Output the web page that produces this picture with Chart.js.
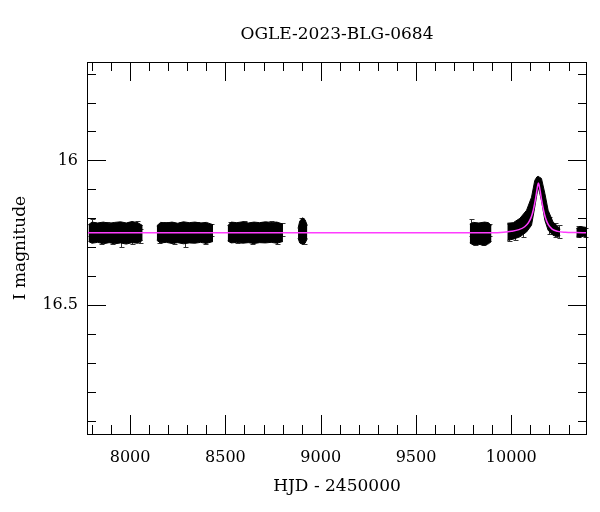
<!DOCTYPE html>
<html lang="en">
<head>
<meta charset="UTF-8">
<title>OGLE-2023-BLG-0684</title>
<style>
  body { margin: 0; background: #fff; }
</style>
</head>
<body>
<canvas id="lightCurve" width="600" height="512"></canvas>
<script src="https://cdn.jsdelivr.net/npm/chart.js"></script>
<script>
const titleText = 'OGLE-2023-BLG-0684';

// observing seasons: the points are so dense they merge, so each season is
// kept as its upper / lower edge (I mag)
const s1X  = [7782, 7800, 7830, 7860, 7890, 7920, 7950, 7980, 8010, 8040, 8066];
const s1Hi = [16.222, 16.213, 16.216, 16.213, 16.217, 16.214, 16.212, 16.216, 16.211, 16.215, 16.225];
const s1Lo = [16.280, 16.286, 16.283, 16.288, 16.284, 16.288, 16.285, 16.289, 16.284, 16.286, 16.276];

const s2X  = [8140, 8160, 8190, 8220, 8250, 8280, 8310, 8340, 8370, 8400, 8435];
const s2Hi = [16.226, 16.214, 16.216, 16.213, 16.217, 16.212, 16.215, 16.213, 16.216, 16.214, 16.222];
const s2Lo = [16.276, 16.285, 16.283, 16.287, 16.284, 16.288, 16.285, 16.286, 16.283, 16.287, 16.280];

const s3X  = [8512, 8530, 8560, 8590, 8620, 8650, 8680, 8710, 8740, 8770, 8802];
const s3Hi = [16.226, 16.213, 16.215, 16.212, 16.216, 16.213, 16.215, 16.212, 16.214, 16.213, 16.220];
const s3Lo = [16.278, 16.285, 16.283, 16.286, 16.284, 16.287, 16.284, 16.285, 16.283, 16.286, 16.280];

const s4X  = [8881, 8890, 8905, 8918, 8930];
const s4Hi = [16.235, 16.210, 16.198, 16.205, 16.225];
const s4Lo = [16.268, 16.285, 16.290, 16.286, 16.270];

const s5X  = [9782, 9800, 9830, 9860, 9880, 9896];
const s5Hi = [16.220, 16.214, 16.216, 16.213, 16.215, 16.225];
const s5Lo = [16.285, 16.292, 16.290, 16.293, 16.288, 16.280];

// season with the event
const s6X  = [9979, 10010, 10045, 10080, 10106, 10123, 10134, 10141, 10148, 10158, 10176, 10193, 10219, 10248, 10256];
const s6Hi = [16.217, 16.215, 16.200, 16.172, 16.127, 16.069, 16.057, 16.055, 16.058, 16.062, 16.114, 16.172, 16.213, 16.230, 16.238];
const s6Lo = [16.276, 16.272, 16.264, 16.247, 16.224, 16.161, 16.118, 16.092, 16.110, 16.138, 16.207, 16.241, 16.259, 16.264, 16.258];

const s7X  = [10341, 10360, 10380, 10397];
const s7Hi = [16.235, 16.228, 16.230, 16.232];
const s7Lo = [16.262, 16.265, 16.262, 16.265];

// single points whose error bars stick out of the clouds
const outX   = [7790, 7800, 7845, 7880, 7905, 7950, 7975, 8000, 8010, 8035, 8050,
                8150, 8185, 8230, 8265, 8290, 8320, 8350, 8395, 8425,
                8525, 8560, 8600, 8640, 8690, 8740, 8770, 8795,
                8895, 8915, 9790, 9810, 9850, 9885,
                9990, 10020, 10060, 10200, 10230, 10250, 10350, 10385];
const outMag = [16.240, 16.225, 16.262, 16.236, 16.262, 16.270, 16.237, 16.235, 16.265, 16.235, 16.262,
                16.262, 16.237, 16.263, 16.235, 16.270, 16.238, 16.235, 16.262, 16.240,
                16.237, 16.262, 16.232, 16.263, 16.236, 16.230, 16.262, 16.238,
                16.228, 16.268, 16.232, 16.265, 16.268, 16.240,
                16.250, 16.245, 16.235, 16.225, 16.240, 16.245, 16.245, 16.250];
const outErr = [0.022, 0.022, 0.025, 0.022, 0.026, 0.030, 0.022, 0.022, 0.025, 0.025, 0.024,
                0.024, 0.024, 0.025, 0.022, 0.028, 0.023, 0.023, 0.025, 0.022,
                0.024, 0.024, 0.022, 0.025, 0.023, 0.022, 0.025, 0.023,
                0.030, 0.022, 0.030, 0.027, 0.025, 0.022,
                0.030, 0.030, 0.030, 0.030, 0.025, 0.022, 0.018, 0.015];

// model light curve
const modelX   = [7774, 9900, 9960, 10000, 10040, 10070, 10090, 10105, 10115, 10125, 10132, 10138, 10142, 10146, 10152, 10159, 10169, 10179, 10194, 10214, 10244, 10284, 10340, 10397];
const modelMag = [16.25, 16.25, 16.248, 16.245, 16.239, 16.229, 16.215, 16.195, 16.172, 16.140, 16.112, 16.088, 16.078, 16.086, 16.108, 16.138, 16.172, 16.198, 16.222, 16.237, 16.245, 16.248, 16.249, 16.25];

// ticks
const xMajor = [8000, 8500, 9000, 9500, 10000];
const xMinor = [7800, 7900, 8100, 8200, 8300, 8400, 8600, 8700, 8800, 8900, 9100, 9200, 9300, 9400, 9600, 9700, 9800, 9900, 10100, 10200, 10300];
const yMajor = [16, 16.5];
const yMinor = [15.7, 15.8, 15.9, 16.1, 16.2, 16.3, 16.4, 16.6, 16.7, 16.8, 16.9];

const serif = 'DejaVu Serif';

function pts(xs, ys) {
  return xs.map((v, i) => ({x: v, y: ys[i]}));
}

const datasets = [{
  label: 'model',
  data: pts(modelX, modelMag),
  borderColor: '#ff3cff',
  borderWidth: 1.5,
  pointRadius: 0,
  tension: 0.4,
  cubicInterpolationMode: 'monotone',
  fill: false,
  order: 0
}];

[[s1X, s1Hi, s1Lo], [s2X, s2Hi, s2Lo], [s3X, s3Hi, s3Lo], [s4X, s4Hi, s4Lo],
 [s5X, s5Hi, s5Lo], [s6X, s6Hi, s6Lo], [s7X, s7Hi, s7Lo]].forEach(s => {
  datasets.push({
    data: pts(s[0], s[1]), borderColor: '#000', borderWidth: 1,
    backgroundColor: '#000', pointRadius: 0, fill: '+1', order: 1
  });
  datasets.push({
    data: pts(s[0], s[2]), borderColor: '#000', borderWidth: 1,
    pointRadius: 0, fill: false, order: 1
  });
});

const errorBars = {
  id: 'errorBars',
  beforeDatasetsDraw(chart) {
    const {ctx, scales: {x, y}} = chart;
    ctx.save();
    ctx.strokeStyle = '#333';
    ctx.lineWidth = 1;
    ctx.beginPath();
    outX.forEach((v, i) => {
      const px = Math.round(x.getPixelForValue(v)) + 0.5;
      const top = Math.round(y.getPixelForValue(outMag[i] - outErr[i])) + 0.5;
      const bot = Math.round(y.getPixelForValue(outMag[i] + outErr[i])) + 0.5;
      ctx.moveTo(px, top); ctx.lineTo(px, bot);
      ctx.moveTo(px - 2, top); ctx.lineTo(px + 3, top);
      ctx.moveTo(px - 2, bot); ctx.lineTo(px + 3, bot);
    });
    ctx.stroke();
    ctx.restore();
  }
};

const frameTicks = {
  id: 'frameTicks',
  afterDatasetsDraw(chart) {
    const {ctx, chartArea: a, scales: {x, y}} = chart;
    ctx.save();
    ctx.strokeStyle = '#000';
    ctx.lineWidth = 1;
    ctx.beginPath();
    const xt = (v, len) => {
      const px = Math.round(x.getPixelForValue(v)) + 0.5;
      ctx.moveTo(px, a.bottom); ctx.lineTo(px, a.bottom - len);
      ctx.moveTo(px, a.top); ctx.lineTo(px, a.top + len);
    };
    const yt = (v, len) => {
      const py = Math.round(y.getPixelForValue(v)) + 0.5;
      ctx.moveTo(a.left, py); ctx.lineTo(a.left + len, py);
      ctx.moveTo(a.right, py); ctx.lineTo(a.right - len, py);
    };
    xMajor.forEach(v => xt(v, 19));
    xMinor.forEach(v => xt(v, 9));
    yMajor.forEach(v => yt(v, 19));
    yMinor.forEach(v => yt(v, 9));
    ctx.stroke();
    ctx.strokeRect(a.left + 0.5, a.top + 0.5, a.right - a.left - 1, a.bottom - a.top);

    // title centred over the plot box
    ctx.fillStyle = '#000';
    ctx.font = '17px "' + serif + '"';
    ctx.textAlign = 'center';
    ctx.textBaseline = 'middle';
    ctx.fillText(titleText, (a.left + a.right) / 2, 35);
    ctx.restore();
  }
};

new Chart(document.getElementById('lightCurve'), {
  type: 'line',
  data: { datasets: datasets },
  options: {
    responsive: false,
    animation: false,
    layout: { padding: { left: 0, right: 13, top: 62, bottom: 0 } },
    plugins: {
      legend: { display: false },
      tooltip: { enabled: false },
      title: { display: false }
    },
    scales: {
      x: {
        type: 'linear',
        min: 7774,
        max: 10397,
        grid: { display: false, drawTicks: false },
        border: { display: false },
        afterBuildTicks: s => { s.ticks = xMajor.map(v => ({value: v})); },
        afterFit: s => { s.height = 78; },
        ticks: {
          color: '#000',
          padding: 14,
          maxRotation: 0,
          font: { family: serif, size: 16 },
          callback: v => String(v)
        },
        title: {
          display: true,
          text: 'HJD - 2450000',
          color: '#000',
          font: { family: serif, size: 17 },
          padding: { top: 0, bottom: 15 }
        }
      },
      y: {
        type: 'linear',
        reverse: true,
        min: 15.66,
        max: 16.945,
        grid: { display: false, drawTicks: false },
        border: { display: false },
        afterBuildTicks: s => { s.ticks = yMajor.map(v => ({value: v})); },
        afterFit: s => { s.width = 87; },
        ticks: {
          color: '#000',
          padding: 9,
          font: { family: serif, size: 16 },
          callback: v => String(v)
        },
        title: {
          display: true,
          text: 'I magnitude',
          color: '#000',
          font: { family: serif, size: 17 },
          padding: { top: 10, bottom: 0 }
        }
      }
    }
  },
  plugins: [errorBars, frameTicks]
});
</script>
</body>
</html>
